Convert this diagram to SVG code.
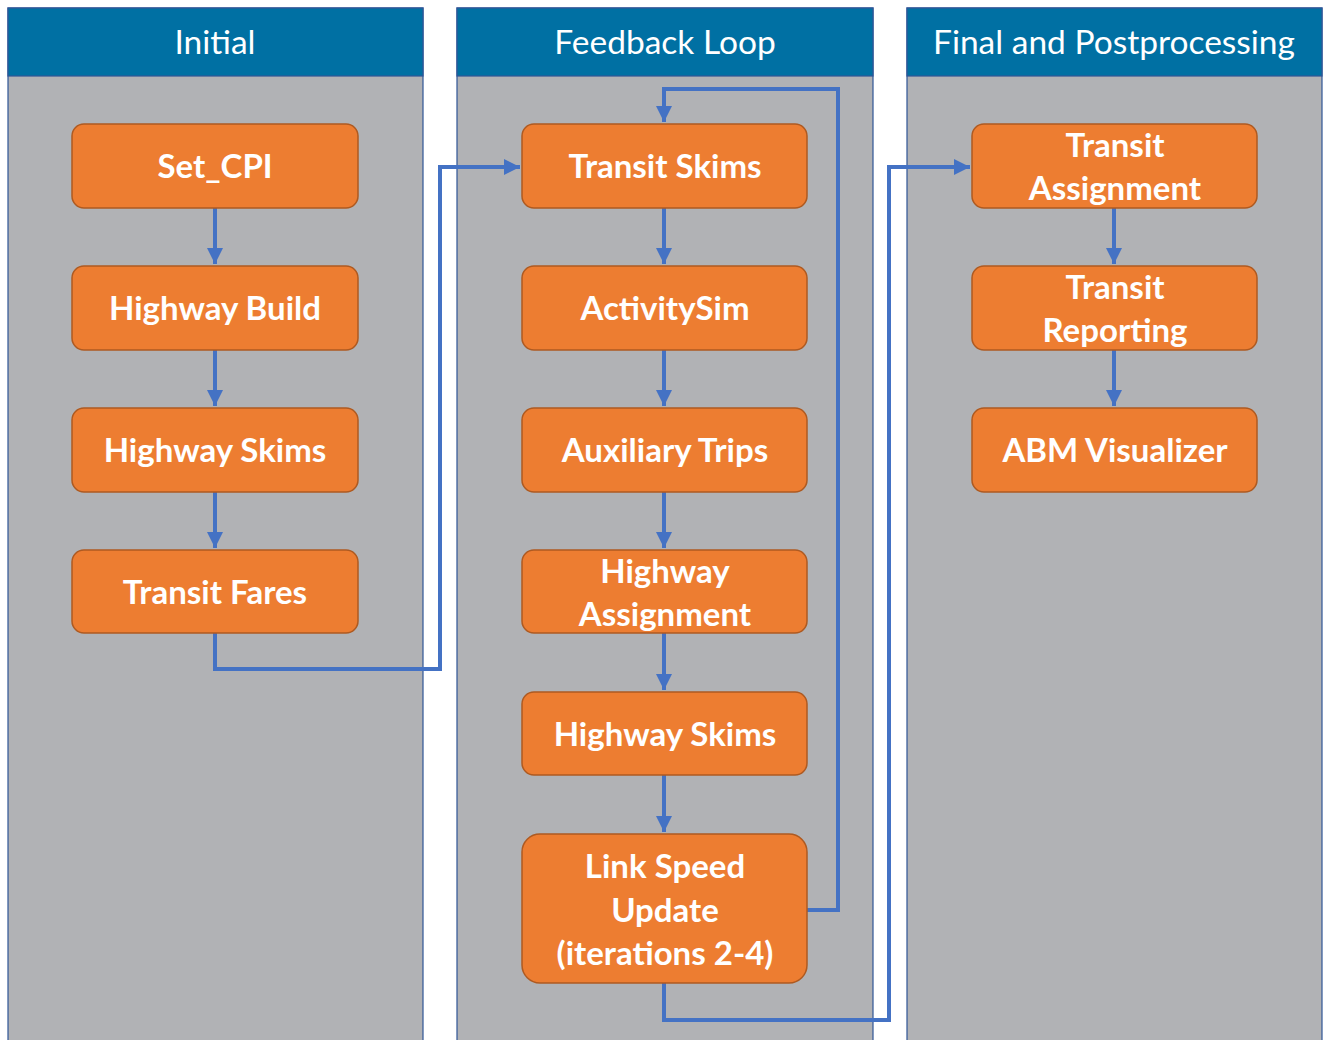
<svg xmlns="http://www.w3.org/2000/svg" width="1330" height="1040" viewBox="0 0 1330 1040">
<defs>
<style>
.lane{fill:#B1B2B5;stroke:#2F5597;stroke-width:1.2}
.hdr{fill:#0070A3;stroke:#2F5597;stroke-width:1.2}
.htxt{font-family:Lato,"Open Sans",sans-serif;font-size:33.5px;fill:#FFFFFF;text-anchor:middle}
.node{fill:#ED7D31;stroke:#AE5A21;stroke-width:1.5}
.ntxt{font-family:Lato,"Open Sans",sans-serif;font-weight:bold;font-size:33px;fill:#FFFFFF;text-anchor:middle}
.conn{fill:none;stroke:#4472C4;stroke-width:4}
</style>
<marker id="arr" viewBox="0 0 10 10" refX="10" refY="5" markerWidth="4" markerHeight="4" markerUnits="strokeWidth" orient="auto">
<path d="M0,0 L10,5 L0,10 z" fill="#4472C4"/>
</marker>
</defs>
<rect width="1330" height="1040" fill="#FFFFFF"/>
<g id="lane-initial">
<rect class="lane" x="8" y="8" width="415" height="1040"/>
<rect class="hdr" x="8" y="8" width="415" height="68"/>
<text class="htxt" x="215" y="54">Initial</text>
</g>
<g id="lane-feedback">
<rect class="lane" x="457" y="8" width="416" height="1040"/>
<rect class="hdr" x="457" y="8" width="416" height="68"/>
<text class="htxt" x="665" y="54">Feedback Loop</text>
</g>
<g id="lane-final">
<rect class="lane" x="907" y="8" width="415" height="1040"/>
<rect class="hdr" x="907" y="8" width="415" height="68"/>
<text class="htxt" x="1114" y="54">Final and Postprocessing</text>
</g>
<g id="connectors">
<path class="conn" d="M215,208 V264" marker-end="url(#arr)"/>
<path class="conn" d="M215,350 V406" marker-end="url(#arr)"/>
<path class="conn" d="M215,492 V548" marker-end="url(#arr)"/>
<path class="conn" d="M215,633 V669 H440 V167 H520" marker-end="url(#arr)"/>
<path class="conn" d="M664,208 V264" marker-end="url(#arr)"/>
<path class="conn" d="M664,350 V406" marker-end="url(#arr)"/>
<path class="conn" d="M664,492 V548" marker-end="url(#arr)"/>
<path class="conn" d="M664,633 V690" marker-end="url(#arr)"/>
<path class="conn" d="M664,775 V832" marker-end="url(#arr)"/>
<path class="conn" d="M807,910 H838 V89 H664 V122" marker-end="url(#arr)"/>
<path class="conn" d="M664,983 V1020 H889 V167 H970" marker-end="url(#arr)"/>
<path class="conn" d="M1114,208 V264" marker-end="url(#arr)"/>
<path class="conn" d="M1114,350 V406" marker-end="url(#arr)"/>
</g>
<g id="n-set-cpi"><rect class="node" x="72" y="124" width="286" height="84" rx="12"/><text class="ntxt" x="215" y="178">Set_CPI</text></g>
<g id="n-highway-build"><rect class="node" x="72" y="266" width="286" height="84" rx="12"/><text class="ntxt" x="215" y="320">Highway Build</text></g>
<g id="n-highway-skims-1"><rect class="node" x="72" y="408" width="286" height="84" rx="12"/><text class="ntxt" x="215" y="462">Highway Skims</text></g>
<g id="n-transit-fares"><rect class="node" x="72" y="550" width="286" height="83" rx="12"/><text class="ntxt" x="215" y="604">Transit Fares</text></g>
<g id="n-transit-skims"><rect class="node" x="522" y="124" width="285" height="84" rx="12"/><text class="ntxt" x="665" y="178">Transit Skims</text></g>
<g id="n-activitysim"><rect class="node" x="522" y="266" width="285" height="84" rx="12"/><text class="ntxt" x="665" y="320">ActivitySim</text></g>
<g id="n-auxiliary-trips"><rect class="node" x="522" y="408" width="285" height="84" rx="12"/><text class="ntxt" x="665" y="462">Auxiliary Trips</text></g>
<g id="n-highway-assignment"><rect class="node" x="522" y="550" width="285" height="83" rx="12"/><text class="ntxt" x="665" y="583">Highway</text><text class="ntxt" x="665" y="626">Assignment</text></g>
<g id="n-highway-skims-2"><rect class="node" x="522" y="692" width="285" height="83" rx="12"/><text class="ntxt" x="665" y="746">Highway Skims</text></g>
<g id="n-link-speed"><rect class="node" x="522" y="834" width="285" height="149" rx="18"/><text class="ntxt" x="665" y="878">Link Speed</text><text class="ntxt" x="665" y="922">Update</text><text class="ntxt" x="665" y="965">(iterations 2-4)</text></g>
<g id="n-transit-assignment"><rect class="node" x="972" y="124" width="285" height="84" rx="12"/><text class="ntxt" x="1115" y="157">Transit</text><text class="ntxt" x="1115" y="200">Assignment</text></g>
<g id="n-transit-reporting"><rect class="node" x="972" y="266" width="285" height="84" rx="12"/><text class="ntxt" x="1115" y="299">Transit</text><text class="ntxt" x="1115" y="342">Reporting</text></g>
<g id="n-abm-visualizer"><rect class="node" x="972" y="408" width="285" height="84" rx="12"/><text class="ntxt" x="1115" y="462">ABM Visualizer</text></g>
</svg>
